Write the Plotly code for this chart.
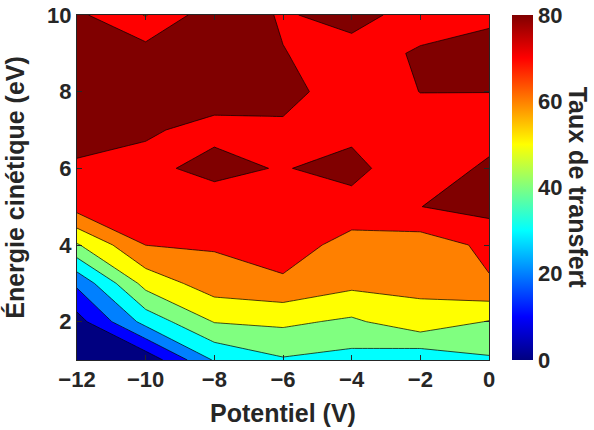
import plotly.graph_objects as go

# Axes values
potentiel = [-12, -10, -8, -6, -4, -2, 0]          # x (V)
energie = [1, 2, 3, 4, 5, 6, 7, 8, 9, 10]          # y (eV)

# Transfer rate, one list per kinetic-energy row (columns follow `potentiel`)
taux_E1 = [2, 3, 31, 39, 36.4, 33, 38.7]
taux_E2 = [6, 33.6, 50.5, 52, 48.3, 56.3, 49.5]
taux_E3 = [22, 53.6, 65.3, 68, 62.6, 62.5, 69.2]
taux_E4 = [49, 70.1, 71, 76, 65.5, 64.8, 72.2]
taux_E5 = [74, 76, 77.2, 77, 77, 79.9, 83.5]
taux_E6 = [79, 78.8, 81.5, 79.6, 82.5, 73.9, 81.8]
taux_E7 = [82.8, 80.5, 78.8, 77.3, 78, 74, 75.8]
taux_E8 = [85, 86, 81.9, 85, 72, 80.2, 80.1]
taux_E9 = [86, 84.5, 86, 80.3, 76.3, 81, 83.7]
taux_E10 = [82.1, 69.5, 86.5, 79, 83.4, 76, 78]

x_ticks = [-12, -10, -8, -6, -4, -2, 0]
y_ticks = [2, 4, 6, 8, 10]
cbar_ticks = [0, 20, 40, 60, 80]

Z = [taux_E1, taux_E2, taux_E3, taux_E4, taux_E5,
     taux_E6, taux_E7, taux_E8, taux_E9, taux_E10]

jet = [[0, 'rgb(0,0,128)'], [0.125, 'rgb(0,0,255)'], [0.375, 'rgb(0,255,255)'],
       [0.625, 'rgb(255,255,0)'], [0.875, 'rgb(255,0,0)'], [1, 'rgb(128,0,0)']]

FONT = "Liberation Sans, Arial, sans-serif"
TXT = "#262626"

fig = go.Figure()
fig.add_trace(go.Contour(
    x=potentiel, y=energie, z=Z,
    colorscale=jet, autocontour=False,
    contours=dict(start=10, end=80, size=10, coloring='fill'),
    line=dict(color='black', width=0.7, smoothing=0),
    showscale=False, hoverinfo='skip'))

# continuous colour bar (0-80)
fig.add_trace(go.Scatter(
    x=[-6], y=[5], mode='markers', hoverinfo='skip', showlegend=False,
    marker=dict(size=1, opacity=0, color=[40], cmin=0, cmax=80, colorscale=jet,
                showscale=True,
                colorbar=dict(x=1.056, xanchor='left', xpad=0, y=0.5, yanchor='middle',
                              len=1, lenmode='fraction', ypad=0, thickness=21,
                              thicknessmode='pixels', outlinewidth=0,
                              tickvals=cbar_ticks, ticks='', ticklabeloverflow='allow',
                              tickfont=dict(family=FONT, size=22, color=TXT, weight='bold')))))

fig.add_annotation(text="Taux de transfert", xref='paper', yref='paper',
                   x=1.218, y=0.5, showarrow=False, textangle=90,
                   xanchor='center', yanchor='middle',
                   font=dict(family=FONT, size=25, color=TXT, weight='bold'))

axis_common = dict(showline=True, linecolor=TXT, linewidth=1, mirror='ticks',
                   ticks='inside', ticklen=5, tickcolor=TXT, showgrid=False, zeroline=False,
                   automargin=False, ticklabeloverflow='allow',
                   tickfont=dict(family=FONT, size=22, color=TXT, weight='bold'))

fig.update_layout(
    width=594, height=430,
    margin=dict(l=77, r=105, t=15, b=70, autoexpand=False),
    paper_bgcolor='white', plot_bgcolor='white',
    showlegend=False,
    xaxis=dict(range=[-12, 0], tickvals=x_ticks,
               title=dict(text="Potentiel (V)", standoff=13,
                          font=dict(family=FONT, size=25, color=TXT, weight='bold')),
               **axis_common),
    yaxis=dict(range=[1, 10], tickvals=y_ticks,
               title=dict(text="Énergie cinétique (eV)", standoff=15,
                          font=dict(family=FONT, size=25, color=TXT, weight='bold')),
               **axis_common),
)

# remove the default 8 px page margin so the figure fills the window exactly
fig.write_html("out.html",
               config={'displayModeBar': False, 'staticPlot': True},
               post_script="document.body.style.margin='0';document.body.style.overflow='hidden';")
